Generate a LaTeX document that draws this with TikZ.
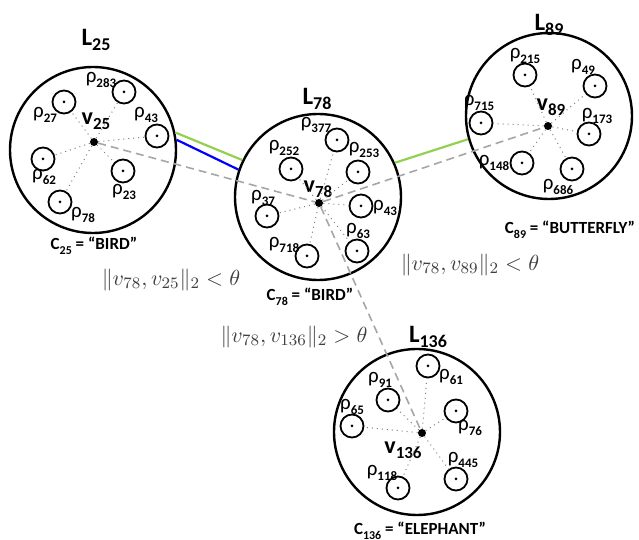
\documentclass[tikz,border=0pt]{standalone}
\usepackage{fontspec}
\setmainfont{Carlito}
\usetikzlibrary{positioning}

\definecolor{lightgreen}{RGB}{146,208,80}

% index set below the base line
\newcommand{\idx}[1]{\raisebox{-0.5ex}{\fontsize{6.5}{7}\selectfont\bfseries #1}}
\newcommand{\rh}[1]{{\fontsize{10.5}{12}\selectfont ρ}\idx{#1}}
\newcommand{\vname}[1]{{\fontsize{12}{14}\selectfont\bfseries v}\raisebox{-0.5ex}{\fontsize{8.5}{10}\selectfont\bfseries #1}}
\newcommand{\lname}[1]{{\fontsize{12.5}{14}\selectfont\bfseries L}\raisebox{-0.5ex}{\fontsize{9}{10}\selectfont\bfseries #1}}
\newcommand{\cname}[2]{{\fontsize{8.5}{10}\selectfont\bfseries C}\raisebox{-0.5ex}{\fontsize{6}{7}\selectfont\bfseries #1}{\fontsize{8.5}{10}\selectfont\bfseries\ =\ “#2”}}

\tikzset{
  cluster/.style={draw, circle, line width=1.2pt, minimum size=83pt, inner sep=0pt},
  point/.style={draw, circle, line width=0.9pt, minimum size=11.5pt, inner sep=0pt,
    path picture={\fill (path picture bounding box.center) circle (0.75pt);}},
  vdot/.style={fill, circle, minimum size=4pt, inner sep=0pt},
  spoke/.style={gray, dotted, line width=0.5pt},
  link/.style={gray!70, line width=0.8pt, dash pattern=on 4pt off 2.5pt},
  txt/.style={inner sep=0pt},
  dist/.style={inner sep=0pt, text=black!75, font=\fontsize{11}{13}\selectfont},
}

\begin{document}
\begin{tikzpicture}[x=0.5pt, y=-0.5pt]
  \useasboundingbox (0,0) rectangle (639,540);

  % --------
  % L25
  % --------
  \node[cluster] (c25) at (93,150) {};
  \node[vdot] (v25) at (94,142) {};
  \node[txt] (tv25) at (96,121) {\vname{25}};
  \node[txt] (l25) at (96,40) {\lname{25}};
  \node[txt] (k25) at (94,246) {\cname{25}{BIRD}};

  \node[point] (p25-283) at (124,92) {};
  \node[point] (p25-27) at (64,102) {};
  \node[point] (p25-43) at (157,136) {};
  \node[point] (p25-62) at (43,159) {};
  \node[point] (p25-23) at (123,171) {};
  \node[point] (p25-78) at (60,202) {};

  \node[txt] at (101,80) {\rh{283}};
  \node[txt] at (45,115) {\rh{27}};
  \node[txt] at (146,115) {\rh{43}};
  \node[txt] at (44,177) {\rh{62}};
  \node[txt] at (124,192) {\rh{23}};
  \node[txt] at (83,215) {\rh{78}};

  \draw[spoke] (v25) -- (p25-283);
  \draw[spoke] (v25) -- (p25-27);
  \draw[spoke] (v25) -- (p25-43);
  \draw[spoke] (v25) -- (p25-62);
  \draw[spoke] (v25) -- (p25-23);
  \draw[spoke] (v25) -- (p25-78);

  % --------
  % L78
  % --------
  \node[cluster] (c78) at (318,197) {};
  \node[vdot] (v78) at (319,203) {};
  \node[txt] (tv78) at (318,189) {\vname{78}};
  \node[txt] (l78) at (317,99) {\lname{78}};
  \node[txt] (k78) at (310,297) {\cname{78}{BIRD}};

  \node[point] (p78-377) at (337,140) {};
  \node[point] (p78-252) at (291,169) {};
  \node[point] (p78-253) at (358,172) {};
  \node[point] (p78-37) at (267,216) {};
  \node[point] (p78-43) at (361,206) {};
  \node[point] (p78-63) at (357,251) {};
  \node[point] (p78-718) at (307,256) {};

  \node[txt] at (316,125) {\rh{377}};
  \node[txt] at (284,148) {\rh{252}};
  \node[txt] at (364,150) {\rh{253}};
  \node[txt] at (263,198) {\rh{37}};
  \node[txt] at (385,208) {\rh{43}};
  \node[txt] at (358,231) {\rh{63}};
  \node[txt] at (284,245) {\rh{718}};

  \draw[spoke] (v78) -- (p78-377);
  \draw[spoke] (v78) -- (p78-252);
  \draw[spoke] (v78) -- (p78-253);
  \draw[spoke] (v78) -- (p78-37);
  \draw[spoke] (v78) -- (p78-43);
  \draw[spoke] (v78) -- (p78-63);
  \draw[spoke] (v78) -- (p78-718);

  % --------
  % L89
  % --------
  \node[cluster] (c89) at (549,116) {};
  \node[vdot] (v89) at (548,126) {};
  \node[txt] (tv89) at (551,107) {\vname{89}};
  \node[txt] (l89) at (549,25) {\lname{89}};
  \node[txt] (k89) at (570,230) {\cname{89}{BUTTERFLY}};

  \node[point] (p89-215) at (525,75) {};
  \node[point] (p89-49) at (595,86) {};
  \node[point] (p89-715) at (481,123) {};
  \node[point] (p89-173) at (589,134) {};
  \node[point] (p89-148) at (522,163) {};
  \node[point] (p89-686) at (572,169) {};

  \node[txt] at (525,56) {\rh{215}};
  \node[txt] at (583,67) {\rh{49}};
  \node[txt] at (479,103) {\rh{715}};
  \node[txt] at (597,116) {\rh{173}};
  \node[txt] at (494,163) {\rh{148}};
  \node[txt] at (558,187) {\rh{686}};

  \draw[spoke] (v89) -- (p89-215);
  \draw[spoke] (v89) -- (p89-49);
  \draw[spoke] (v89) -- (p89-715);
  \draw[spoke] (v89) -- (p89-173);
  \draw[spoke] (v89) -- (p89-148);
  \draw[spoke] (v89) -- (p89-686);

  % --------
  % L136
  % --------
  \node[cluster] (c136) at (417,432) {};
  \node[vdot] (v136) at (422,433) {};
  \node[txt] (tv136) at (403,450) {\vname{136}};
  \node[txt] (l136) at (428,337) {\lname{136}};
  \node[txt] (k136) at (420,531) {\cname{136}{ELEPHANT}};

  \node[point] (p136-61) at (428,366) {};
  \node[point] (p136-91) at (388,400) {};
  \node[point] (p136-65) at (352,426) {};
  \node[point] (p136-76) at (456,411) {};
  \node[point] (p136-445) at (456,479) {};
  \node[point] (p136-118) at (398,488) {};

  \node[txt] at (451,377) {\rh{61}};
  \node[txt] at (380,380) {\rh{91}};
  \node[txt] at (352,407) {\rh{65}};
  \node[txt] at (470,428) {\rh{76}};
  \node[txt] at (463,460) {\rh{445}};
  \node[txt] at (382,473) {\rh{118}};

  \draw[spoke] (v136) -- (p136-61);
  \draw[spoke] (v136) -- (p136-91);
  \draw[spoke] (v136) -- (p136-65);
  \draw[spoke] (v136) -- (p136-76);
  \draw[spoke] (v136) -- (p136-445);
  \draw[spoke] (v136) -- (p136-118);

  % Draw links
  \draw[link] (v25) -- (v78);
  \draw[link] (v78) -- (v89);
  \draw[link] (v78) -- (v136);
  \draw[lightgreen, line width=1.1pt] (c25.12) -- (c78.154);
  \draw[blue, line width=1.1pt] (c25.7) -- (c78.161);
  \draw[lightgreen, line width=1.1pt] (c78.24) -- (c89.196);

  % distances
  \node[dist] (d25) at (171,280) {$\|v_{78}, v_{25}\|_2 < \theta$};
  \node[dist] (d89) at (470,265) {$\|v_{78}, v_{89}\|_2 < \theta$};
  \node[dist] (d136) at (294,337) {$\|v_{78}, v_{136}\|_2 > \theta$};
\end{tikzpicture}
\end{document}
